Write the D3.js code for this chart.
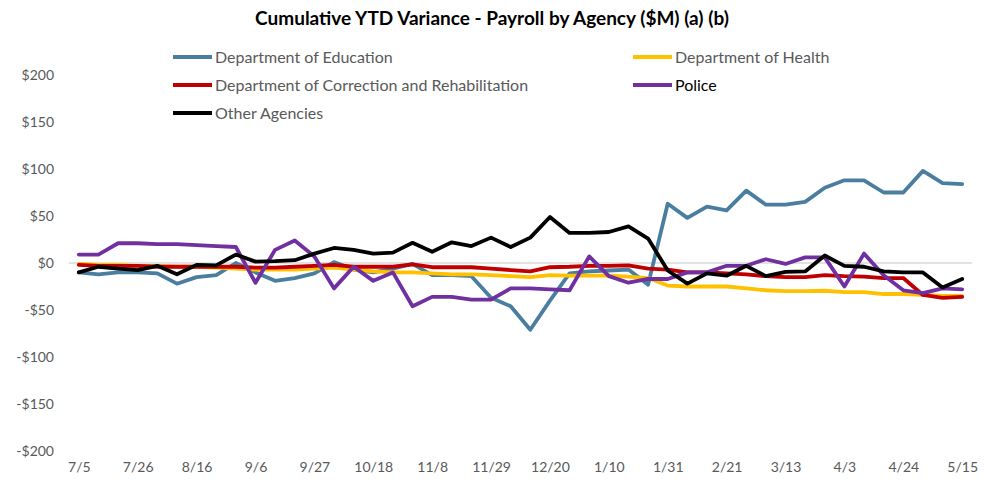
<!DOCTYPE html>
<html>
<head>
<meta charset="utf-8">
<script src="https://cdn.jsdelivr.net/npm/d3@7"></script>
<style>
	body { margin: 0; background: #fff; }
	svg { display: block; }
</style>
</head>
<body>
<svg id="chart" width="984" height="486"></svg>
<script>
// weekly ending dates
var weeks = ['7/5','7/12','7/19','7/26','8/2','8/9','8/16','8/23','8/30','9/6','9/13','9/20','9/27','10/4','10/11','10/18','10/25','11/1','11/8','11/15','11/22','11/29','12/6','12/13','12/20','12/27','1/3','1/10','1/17','1/24','1/31','2/7','2/14','2/21','2/28','3/6','3/13','3/20','3/27','4/3','4/10','4/17','4/24','5/1','5/8','5/15']
var tickWeeks = ['7/5','7/26','8/16','9/6','9/27','10/18','11/8','11/29','12/20','1/10','1/31','2/21','3/13','4/3','4/24','5/15']
var yTicks = [-200,-150,-100,-50,0,50,100,150,200]

var education = [-10,-12,-10,-10,-11,-22,-15,-13,0,-10,-19,-16,-11,1,-7,-10,-6,-1,-13,-13,-14,-37,-46,-71,-40,-11,-9,-8,-7,-23,63,48,60,56,77,62,62,65,80,88,88,75,75,98,85,84]
var health = [-1,-2,-2,-3,-3,-4,-4,-5,-6,-7,-7,-7,-6,-5,-7,-9,-10,-10,-11,-12,-12,-13,-14,-15,-13,-13.5,-13.5,-13.5,-14.5,-16,-24,-25,-25,-25,-27,-29,-30,-30,-29.5,-31,-31,-33,-33,-34,-35,-35]
var correction = [-2,-3,-3,-3,-4,-4,-4,-4,-4,-5,-5,-4,-3,-2,-4,-4,-4,-1.5,-4.5,-4.5,-4.5,-6,-7.5,-9,-4.5,-4,-3,-3,-2.5,-6,-7,-10,-10,-11,-12,-14,-15,-15,-13,-14,-14.5,-16,-16,-34,-37,-36]
var police = [9,9,21,21,20,20,19,18,17,-21,14,24,7,-27,-4,-19,-10,-46,-36,-36,-39,-39,-27,-27,-28,-29,7,-14,-21,-17,-17,-10,-10,-3,-3,4,-1,6,6,-25,10,-13,-29,-32,-27,-28]
var other = [-10,-4,-6,-7.5,-3,-12,-2,-2.5,9,1.5,2,3,10,16,14,10,11,21.5,12,22,18,27,17,27,49,32,32,33,39,26,-8,-22,-11,-13.5,-3,-14,-9.5,-9,8,-3,-4,-9,-10,-10,-26,-17]

var seriesNames = ['Department of Education','Department of Health','Department of Correction and Rehabilitation','Police','Other Agencies']
var seriesColors = ['#4a7ea0','#ffc000','#c00000','#7030a0','#000000']

var series = [education, health, correction, police, other].map(function(v,i){
	return {name: seriesNames[i], color: seriesColors[i], values: v}
})

var font = 'Lato, "Open Sans", sans-serif'
var svg = d3.select('#chart')

var x = d3.scalePoint()
	.domain(weeks)
	.range([69, 972])
	.padding(0.5)
var y = d3.scaleLinear()
	.domain([-200, 200])
	.range([451, 75])

// title
svg.append('text')
	.attr('x', 492)
	.attr('y', 25)
	.attr('text-anchor', 'middle')
	.style('font-family', font)
	.style('font-weight', 700)
	.style('font-size', '19px')
	.attr('fill', '#000')
	.text('Cumulative YTD Variance - Payroll by Agency ($M) (a) (b)')

// zero line
svg.append('line')
	.attr('x1', 69)
	.attr('x2', 972)
	.attr('y1', y(0))
	.attr('y2', y(0))
	.attr('stroke', '#d9d9d9')
	.attr('stroke-width', 1.3)

// y axis labels
var yAxis = d3.axisLeft(y)
	.tickValues(yTicks)
	.tickSize(0)
	.tickPadding(0)
	.tickFormat(function(d){
		return (d < 0 ? '-$' : '$') + Math.abs(d)
	})
svg.append('g')
	.attr('transform', 'translate(54,0)')
	.call(yAxis)
	.call(function(g){ g.select('.domain').remove() })
	.selectAll('text')
	.style('font-family', font)
	.style('font-size', '14px')
	.attr('fill', '#595959')

// x axis labels
var xAxis = d3.axisBottom(x)
	.tickValues(tickWeeks)
	.tickSize(0)
	.tickPadding(0)
svg.append('g')
	.attr('transform', 'translate(0,462)')
	.call(xAxis)
	.call(function(g){ g.select('.domain').remove() })
	.selectAll('text')
	.style('font-family', font)
	.style('font-size', '14px')
	.attr('fill', '#595959')

// lines
var line = d3.line()
	.x(function(d,i){ return x(weeks[i]) })
	.y(function(d){ return y(d) })

series.forEach(function(s){
	svg.append('path')
		.datum(s.values)
		.attr('d', line)
		.attr('fill', 'none')
		.attr('stroke', s.color)
		.attr('stroke-width', 3.8)
		.attr('stroke-linejoin', 'round')
		.attr('stroke-linecap', 'round')
})

// legend
var legendPos = [[173,57],[633,57],[173,85],[633,85],[173,113]]
series.forEach(function(s,i){
	var g = svg.append('g')
		.attr('transform', 'translate(' + legendPos[i][0] + ',' + legendPos[i][1] + ')')
	g.append('line')
		.attr('x1', 0)
		.attr('x2', 39)
		.attr('stroke', s.color)
		.attr('stroke-width', 3.8)
	g.append('text')
		.attr('x', 42)
		.attr('dy', '0.35em')
		.style('font-family', font)
		.style('font-size', '16px')
		.attr('fill', s.name == 'Police' ? '#000' : '#595959')
		.text(s.name)
})
</script>
</body>
</html>
